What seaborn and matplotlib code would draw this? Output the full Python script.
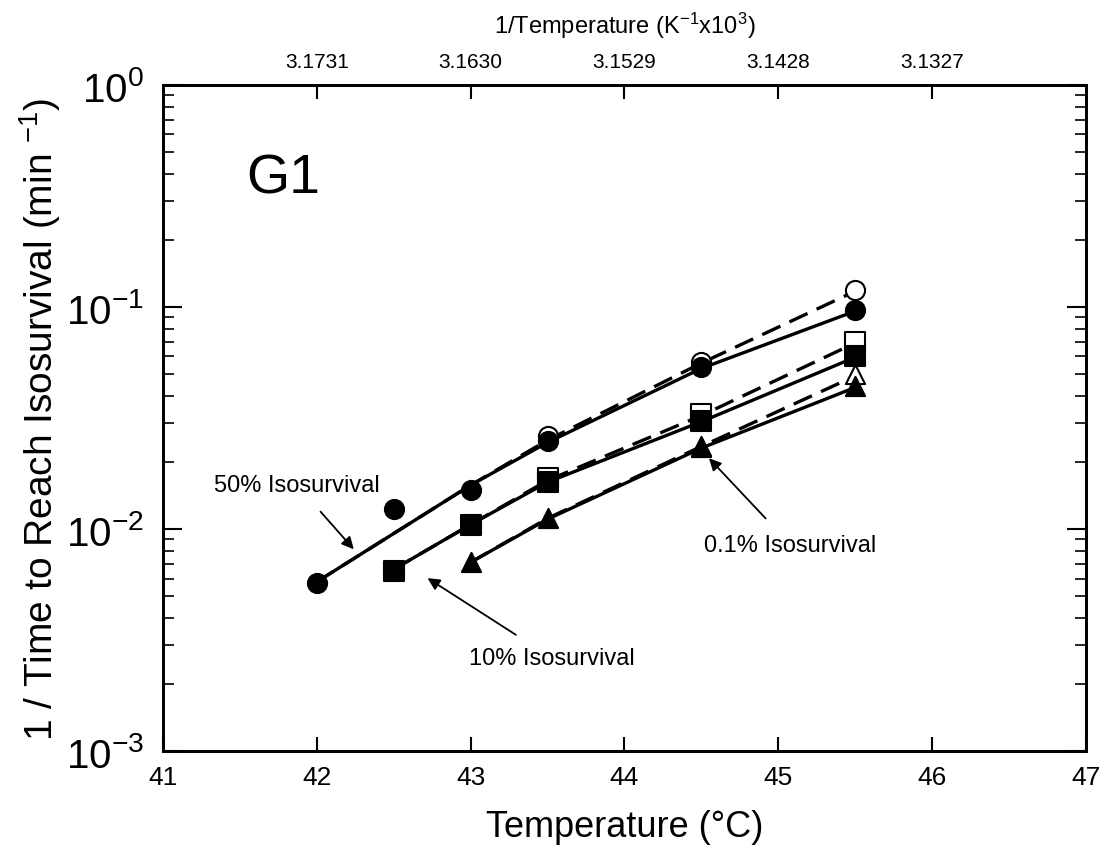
import numpy as np
import pandas as pd
import matplotlib
matplotlib.use("Agg")
import matplotlib.pyplot as plt
import seaborn as sns
from matplotlib.ticker import LogLocator, FixedLocator, NullFormatter

# ---- data ----
# filled symbols (measured points)
t50_f = [42.0, 42.5, 43.0, 43.5, 44.5, 45.5]
r50_f = [0.0057, 0.0123, 0.0151, 0.0249, 0.0537, 0.0969]
t10_f = [42.5, 43.0, 43.5, 44.5, 45.5]
r10_f = [0.0065, 0.0105, 0.0164, 0.0306, 0.0602]
t01_f = [43.0, 43.5, 44.5, 45.5]
r01_f = [0.0071, 0.0112, 0.0234, 0.0441]
# open symbols
t50_o = [43.5, 44.5, 45.5]
r50_o = [0.0262, 0.0565, 0.119]
t10_o = [43.5, 44.5, 45.5]
r10_o = [0.0170, 0.0330, 0.0695]
t01_o = [44.5, 45.5]
r01_o = [0.0238, 0.0499]
# fitted curves (solid through filled, dashed through open)
c50_t = [42.0, 43.0, 43.5, 44.5, 45.5]
c50_s = [0.0058, 0.0158, 0.0246, 0.0530, 0.0960]
c50_d = [0.0058, 0.0158, 0.0252, 0.0560, 0.118]
c10_t = [42.5, 43.0, 43.5, 44.5, 45.5]
c10_s = [0.0066, 0.0105, 0.0163, 0.0305, 0.0595]
c10_d = [0.0066, 0.0105, 0.0166, 0.0325, 0.0690]
c01_t = [43.0, 43.5, 44.5, 45.5]
c01_s = [0.0071, 0.0111, 0.0232, 0.0435]
c01_d = [0.0071, 0.0112, 0.0236, 0.0490]

top_ticks = [42, 43, 44, 45, 46]
top_labels = ["3.1731", "3.1630", "3.1529", "3.1428", "3.1327"]
x_ticks = [41, 42, 43, 44, 45, 46, 47]

sns.set_theme(style="ticks")
plt.rcParams['font.family'] = ['Liberation Sans', 'DejaVu Sans']
plt.rcParams['mathtext.fontset'] = 'custom'
plt.rcParams['mathtext.rm'] = 'Liberation Sans'
plt.rcParams['mathtext.it'] = 'Liberation Sans'
for k in ['text.color', 'axes.labelcolor', 'xtick.color', 'ytick.color', 'axes.edgecolor']:
    plt.rcParams[k] = 'black'

fig = plt.figure(figsize=(11.17, 8.53), dpi=100)
ax = fig.add_axes([0.146, 0.118, 0.826, 0.781])

lw = 2.4
def curve(t, y, ls):
    df = pd.DataFrame({"t": t, "r": y})
    sns.lineplot(data=df, x="t", y="r", ax=ax, color="black", lw=lw,
                 linestyle=ls, sort=True, estimator=None)

curve(c50_t, c50_d, (0, (6, 3)))
curve(c10_t, c10_d, (0, (6, 3)))
curve(c01_t, c01_d, (0, (6, 3)))
curve(c50_t, c50_s, "-")
curve(c10_t, c10_s, "-")
curve(c01_t, c01_s, "-")

ms = 190
def pts(t, y, marker, filled):
    df = pd.DataFrame({"t": t, "r": y})
    sns.scatterplot(data=df, x="t", y="r", ax=ax, marker=marker, s=ms,
                    color="black" if filled else "white",
                    edgecolor="black", linewidth=1.5, zorder=5 if filled else 4)

pts(t50_o, r50_o, "o", False)
pts(t10_o, r10_o, "s", False)
pts(t01_o, r01_o, "^", False)
pts(t50_f, r50_f, "o", True)
pts(t10_f, r10_f, "s", True)
pts(t01_f, r01_f, "^", True)

ax.set_yscale("log")
ax.set_xlim(41, 47)
ax.set_ylim(1e-3, 1)
ax.set_xticks(x_ticks)
ax.yaxis.set_major_locator(LogLocator(base=10, numticks=10))
ax.yaxis.set_minor_locator(LogLocator(base=10, subs=np.arange(2, 10), numticks=10))
ax.yaxis.set_minor_formatter(NullFormatter())
ax.tick_params(axis="both", which="both", direction="in", right=True)
ax.tick_params(axis="x", which="major", length=10, width=1.5, labelsize=19, pad=10)
ax.tick_params(axis="y", which="major", length=14, width=1.5, labelsize=29, pad=14)
ax.tick_params(axis="y", which="minor", length=8, width=1.2)
for sp in ax.spines.values():
    sp.set_linewidth(2.0)
    sp.set_color("black")

ax.set_xlabel("Temperature (°C)", fontsize=26, labelpad=14)
ax.set_ylabel("1 / Time to Reach Isosurvival (min $^{-1}$)", fontsize=28, labelpad=2)

# top axis: 1/T in K^-1 x 10^3
axt = ax.twiny()
axt.set_xlim(ax.get_xlim())
axt.xaxis.set_major_locator(FixedLocator(top_ticks))
axt.set_xticklabels(top_labels)
axt.tick_params(axis="x", direction="in", length=10, width=1.5, labelsize=15, pad=10)
axt.set_xlabel("1/Temperature (K$^{-1}$x10$^{3}$)", fontsize=17, labelpad=14)
for sp in axt.spines.values():
    sp.set_linewidth(2.0)

ax.text(0.09, 0.86, "G1", transform=ax.transAxes, fontsize=40, ha="left", va="center")

ax.annotate("50% Isosurvival", xy=(42.24, 10**-2.09), xytext=(41.87, 10**-1.80),
            fontsize=17, ha="center", va="center",
            arrowprops=dict(arrowstyle="-|>", color="black", lw=1.3, mutation_scale=18,
                            shrinkA=12, shrinkB=0))
ax.annotate("10% Isosurvival", xy=(42.72, 10**-2.22), xytext=(43.53, 10**-2.58),
            fontsize=17, ha="center", va="center",
            arrowprops=dict(arrowstyle="-|>", color="black", lw=1.3, mutation_scale=18,
                            shrinkA=12, shrinkB=0))
ax.annotate("0.1% Isosurvival", xy=(44.55, 10**-1.68), xytext=(45.08, 10**-2.07),
            fontsize=17, ha="center", va="center",
            arrowprops=dict(arrowstyle="-|>", color="black", lw=1.3, mutation_scale=18,
                            shrinkA=12, shrinkB=0))

fig.savefig("out.png", dpi=100)
